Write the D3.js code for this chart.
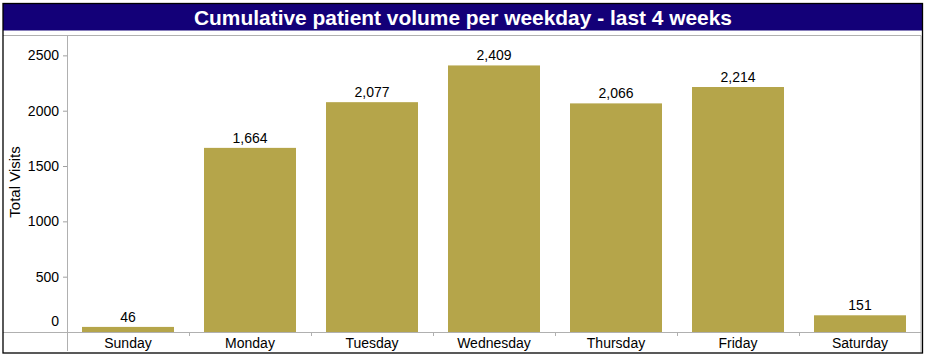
<!DOCTYPE html>
<html><head><meta charset="utf-8">
<script src="https://cdn.jsdelivr.net/npm/d3@7"></script>
<style>body{margin:0;background:#fff;font-family:Arial,"Liberation Sans",sans-serif;}</style>
</head><body><svg id="c" width="927" height="358"></svg>
<script>
const days = ["Sunday","Monday","Tuesday","Wednesday","Thursday","Friday","Saturday"];
const visits = [46,1664,2077,2409,2066,2214,151];
const yTicks = [0,500,1000,1500,2000,2500];
const titleText = "Cumulative patient volume per weekday - last 4 weeks";
const yTitle = "Total Visits";

const svg = d3.select("#c");
const L = 67, R = 921, T = 36, B = 332;
const x = d3.scaleBand().domain(days).range([L,R]).paddingInner(0.246).paddingOuter(0.123);
const y = d3.scaleLinear().domain([0, 2675]).range([B, T]);
const fmt = d3.format(",");

// title bar
svg.append("rect").attr("x",3).attr("y",3.5).attr("width",919.5).attr("height",27).attr("fill","#130078");
svg.append("text").attr("x",463).attr("y",24.5).attr("text-anchor","middle")
  .attr("fill","#fff").attr("font-weight","bold").attr("font-size",20.5)
  .attr("textLength",538).attr("lengthAdjust","spacingAndGlyphs").text(titleText);

// inner panel frame
svg.append("line").attr("x1",3).attr("x2",921).attr("y1",35.5).attr("y2",35.5).attr("stroke","#b0b0b0");
svg.append("line").attr("x1",921).attr("x2",921).attr("y1",35.5).attr("y2",352).attr("stroke","#b0b0b0");

// bars
svg.selectAll("rect.bar").data(days).enter().append("rect").attr("class","bar")
  .attr("x",d=>x(d)).attr("width",x.bandwidth())
  .attr("y",(d,i)=>y(visits[i])).attr("height",(d,i)=>B - y(visits[i]))
  .attr("fill","#b5a54a");

// value labels
svg.selectAll("text.val").data(days).enter().append("text").attr("class","val")
  .attr("x",d=>x(d)+x.bandwidth()/2).attr("y",(d,i)=>y(visits[i])-5)
  .attr("text-anchor","middle").attr("font-size",14).attr("fill","#000")
  .text((d,i)=>fmt(visits[i]));

// y axis
const ya = svg.append("g").attr("transform",`translate(${L},0)`)
  .call(d3.axisLeft(y).tickValues(yTicks).tickSize(4).tickPadding(4).tickFormat(d3.format("d")));
ya.select(".domain").remove();
ya.selectAll(".tick line").attr("stroke","#a0a0a0");
ya.selectAll(".tick text").attr("font-size",14).attr("fill","#000").attr("font-family","Arial, 'Liberation Sans', sans-serif");
ya.selectAll(".tick").filter(d=>d===0).select("text").attr("dy","-0.45em");
svg.append("line").attr("x1",L+0.5).attr("x2",L+0.5).attr("y1",35.5).attr("y2",351).attr("stroke","#b0b0b0");

// x axis
svg.append("line").attr("x1",3).attr("x2",921).attr("y1",B+0.5).attr("y2",B+0.5).attr("stroke","#b0b0b0");
const step = x.step();
svg.selectAll("line.sep").data(days.slice(1)).enter().append("line").attr("class","sep")
  .attr("x1",d=>x(d)-step*0.123+0.5).attr("x2",d=>x(d)-step*0.123+0.5)
  .attr("y1",B).attr("y2",B+4).attr("stroke","#b0b0b0");
svg.selectAll("text.cat").data(days).enter().append("text").attr("class","cat")
  .attr("x",d=>x(d)+x.bandwidth()/2).attr("y",348).attr("text-anchor","middle")
  .attr("font-size",14).attr("fill","#000").text(d=>d);

// y title
svg.append("text").attr("transform","translate(20,182) rotate(-90)").attr("text-anchor","middle")
  .attr("font-size",15).attr("fill","#000").text(yTitle);

// outer frame
svg.append("rect").attr("x",3).attr("y",3.5).attr("width",919.5).attr("height",349.5)
  .attr("fill","none").attr("stroke","#000").attr("stroke-width",1.3);
</script></body></html>
